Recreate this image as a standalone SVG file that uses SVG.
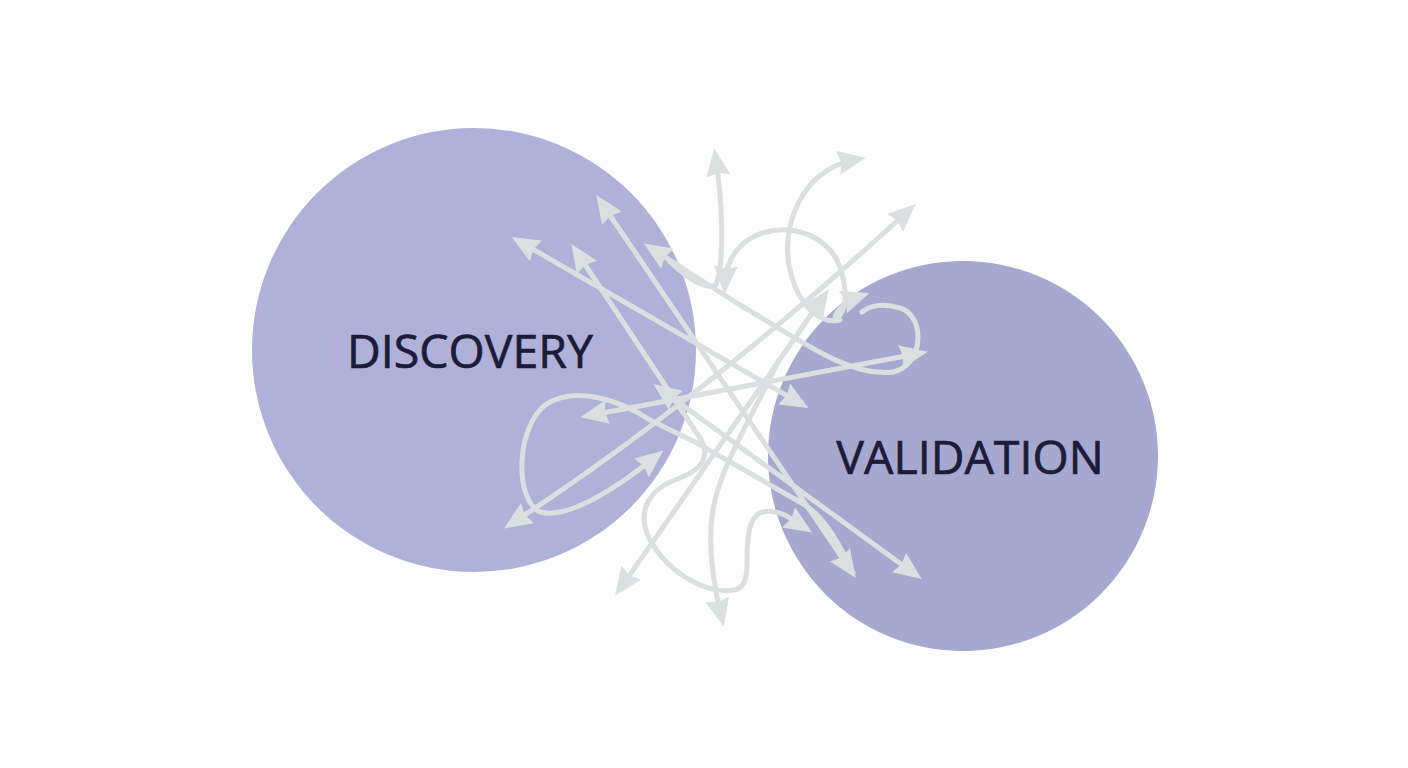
<svg xmlns="http://www.w3.org/2000/svg" width="1408" height="768" viewBox="0 0 1408 768">
<style>
.lbl{font-family:"Open Sans","Noto Sans","Liberation Sans",sans-serif;fill:#1c1c38;stroke:#1c1c38;stroke-width:0.7;}
.c{fill:none;stroke:#dcdfe0;stroke-width:5;stroke-linecap:round;stroke-linejoin:round;}
.b{marker-start:url(#ah);marker-end:url(#ah);}
.s{marker-start:url(#ah);}
.e{marker-end:url(#ah);}
</style>
<defs>
<marker id="ah" markerUnits="userSpaceOnUse" markerWidth="28" markerHeight="24" viewBox="0 0 28 24" refX="16" refY="12" orient="auto-start-reverse">
<path d="M0,0 L28,12 L0,24 L3,12 z" fill="#dcdfe0"/>
</marker>
</defs>
<rect width="1408" height="768" fill="#fdfdfd"/>
<g id="discovery">
<circle cx="474" cy="350" r="222" fill="#b0b1d8"/>
<text class="lbl" x="470" y="368" font-size="46.5" text-anchor="middle">DISCOVERY</text>
</g>
<g id="validation">
<circle cx="963" cy="456" r="195" fill="#a7a8d0"/>
<text class="lbl" x="970" y="474" font-size="46.5" text-anchor="middle">VALIDATION</text>
</g>
<g id="connectors">
<path class="c b" d="M522,243 L798,402"/>
<path class="c b" d="M578,254 L700,438 C712,458 700,470 680,478 C645,490 637,515 650,540 C668,572 705,595 735,590 C752,585 745,560 748,540 C750,515 760,505 785,515 L802,526"/>
<path class="c b" d="M603,205 L849,568"/>
<path class="c b" d="M663,391 L912,572"/>
<path class="c s" d="M654,458 C620,485 570,520 540,512 C515,500 515,430 545,405 C575,385 620,400 650,420 L697,443 L805,505 C825,518 840,545 853,573"/>
<path class="c b" d="M592,415 L916,354"/>
<path class="c b" d="M514,522 Q700,401 907,212"/>
<path class="c b" d="M622,586 L822,299"/>
<path class="c s" d="M721,615 C715,590 705,540 715,500 C725,460 750,420 779,360"/>
<path class="c s" d="M716,160 C722,200 725,260 716,285 C705,290 690,280 670,262"/>
<path class="c s" d="M654,250 L740,305 C800,340 850,378 893,372 C925,365 925,315 900,308 C885,303 870,305 862,312"/>
<path class="c b" d="M725,282 C728,230 790,215 825,245 C845,262 850,300 840,315 C830,326 835,305 858,297"/>
<path class="c s" d="M854,160 C800,170 780,230 790,270 C798,305 820,325 840,320"/>
</g>
</svg>
